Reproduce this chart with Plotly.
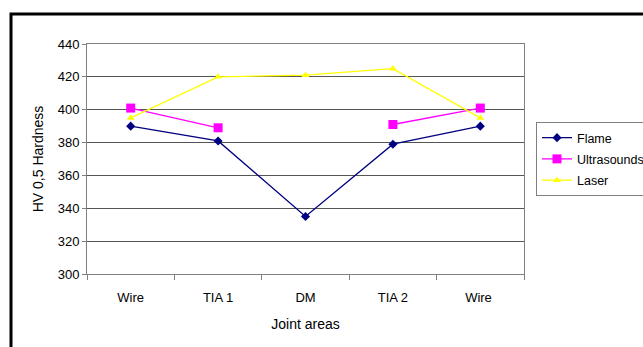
import plotly.graph_objects as go

categories = ["Wire", "TIA 1", "DM", "TIA 2", "Wire "]
flame = [390, 381, 335, 379, 390]
ultrasounds = [401, 389, None, 391, 401]
laser = [395, 420, 421, 425, 395]
y_ticks = [300, 320, 340, 360, 380, 400, 420, 440]

W, H = 643, 347
L, R, T, B = 87, 524, 44, 274

def px(x):
    return (x - L) / (R - L)

def py(y):
    return (B - y) / (B - T)

fig = go.Figure()
fig.add_trace(go.Scatter(x=categories, y=flame, name="Flame", mode="lines+markers",
                         legendgroup="a",
                         line=dict(color="#000080", width=1.3),
                         marker=dict(symbol="diamond", size=7, color="#000080")))
fig.add_trace(go.Scatter(x=categories, y=ultrasounds, name="Ultrasounds", mode="lines+markers",
                         legendgroup="b", connectgaps=False,
                         line=dict(color="#FF00FF", width=1.3),
                         marker=dict(symbol="square", size=9, color="#FF00FF")))
fig.add_trace(go.Scatter(x=categories, y=laser, name="Laser", mode="lines+markers",
                         legendgroup="c",
                         line=dict(color="#FFFF00", width=1.3),
                         marker=dict(symbol="triangle-up", size=7, color="#FFFF00")))

fig.update_layout(
    width=W, height=H,
    margin=dict(l=L, r=W - R, t=T, b=H - B, autoexpand=False),
    paper_bgcolor="white", plot_bgcolor="white",
    font=dict(family="Liberation Sans, Arial, sans-serif", size=13, color="black"),
    showlegend=True,
    legend=dict(x=px(536), y=py(122), xanchor="left", yanchor="top",
                bordercolor="#808080", borderwidth=1, bgcolor="white",
                font=dict(size=12.5), itemwidth=30, traceorder="grouped",
                tracegroupgap=2),
    xaxis=dict(type="category", categoryorder="array", categoryarray=categories,
               tickson="boundaries", ticks="outside", ticklen=5, tickcolor="#808080",
               showline=True, linecolor="#808080", linewidth=1, mirror=True,
               showgrid=False, zeroline=False, range=[-0.5, 4.5],
               ticklabelstandoff=11,
               title=dict(text="Joint areas", font=dict(size=14), standoff=15),
               tickfont=dict(size=13)),
    yaxis=dict(range=[300, 440], tickvals=y_ticks, ticks="outside", ticklen=4,
               tickcolor="#808080",
               showline=True, linecolor="#808080", linewidth=1, mirror=True,
               showgrid=True, gridcolor="#555555", gridwidth=1, zeroline=False,
               title=dict(text="HV 0,5 Hardness", font=dict(size=14), standoff=10),
               tickfont=dict(size=13)),
    shapes=[dict(type="rect", xref="paper", yref="paper",
                 x0=px(11), x1=px(660), y0=py(360), y1=py(14),
                 line=dict(color="black", width=3), layer="above")],
)

fig.write_html("out.html", config={"displayModeBar": False},
               post_script="document.body.style.margin='0';document.body.style.overflow='hidden';")
